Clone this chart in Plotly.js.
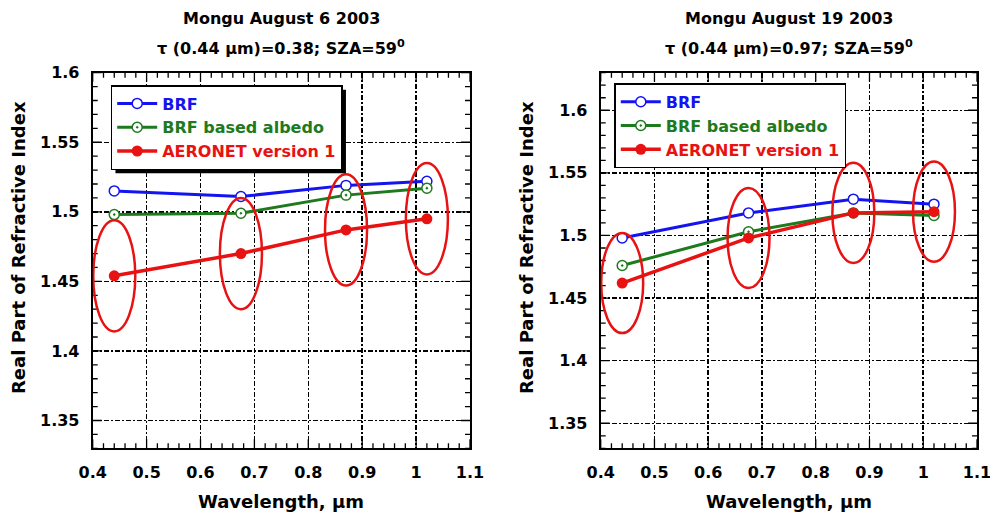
<!DOCTYPE html>
<html>
<head>
<meta charset="utf-8">
<script src="https://cdn.plot.ly/plotly-3.0.1.min.js"></script>
<style>html,body{margin:0;padding:0;background:#fff}#chart{width:990px;height:515px}</style>
</head>
<body>
<div id="chart"></div>
<script>
// ---- data ----
const wavelength = [0.44, 0.675, 0.87, 1.02];

const aug6Brf     = [1.515, 1.511, 1.519, 1.522];
const aug6Albedo  = [1.498, 1.499, 1.512, 1.517];
const aug6Aeronet = [1.454, 1.470, 1.487, 1.495];

const aug19Brf     = [1.498, 1.518, 1.529, 1.525];
const aug19Albedo  = [1.476, 1.503, 1.518, 1.516];
const aug19Aeronet = [1.462, 1.498, 1.518, 1.519];

const seriesNames = ['BRF', 'BRF based albedo', 'AERONET version 1'];
const panelTitles = ['Mongu August 6 2003', 'Mongu August 19 2003'];
const panelSubtitles = ['τ (0.44 µm)=0.38; SZA=59<sup>0</sup>', 'τ (0.44 µm)=0.97; SZA=59<sup>0</sup>'];
const xTitle = 'Wavelength, µm';
const yTitle = 'Real Part of Refractive Index';

// ---- styles ----
const BLUE = '#1414f0', GREEN = '#1d7a1d', RED = '#e81212';
const FONT = 'DejaVu Sans, sans-serif';
const GRIDDASH = '5px,2px,2px,2px';

const X_RANGE = [0.4, 1.1];
const Y_RANGE_L = [1.33, 1.6];
const Y_RANGE_R = [1.33, 1.63];

const W = 990, H = 515;
const px = v => v / W, py = v => 1 - v / H;
const PLOT_L = [92.7, 470], PLOT_R = [600.7, 977], PLOT_TB = [72.7, 448.3];
const XD1 = [px(PLOT_L[0]), px(PLOT_L[1])], XD2 = [px(PLOT_R[0]), px(PLOT_R[1])];
const YD = [1 - PLOT_TB[1] / H, 1 - PLOT_TB[0] / H];

function traces(brf, alb, aer, xa, ya, leg) {
  return [
    {x: wavelength, y: brf, xaxis: xa, yaxis: ya, legend: leg, mode: 'lines+markers',
     name: '<span style="color:' + BLUE + '">' + seriesNames[0] + '</span>',
     line: {color: BLUE, width: 3},
     marker: {symbol: 'circle', size: 10, color: 'white', line: {color: BLUE, width: 1.5}}},
    {x: wavelength, y: alb, xaxis: xa, yaxis: ya, legend: leg, mode: 'lines+markers',
     name: '<span style="color:' + GREEN + '">' + seriesNames[1] + '</span>',
     line: {color: GREEN, width: 3},
     marker: {symbol: 'circle-dot', size: 10, color: 'white', line: {color: GREEN, width: 1.5}}},
    {x: wavelength, y: aer, xaxis: xa, yaxis: ya, legend: leg, mode: 'lines+markers',
     name: '<span style="color:' + RED + '">' + seriesNames[2] + '</span>',
     line: {color: RED, width: 3.5},
     marker: {symbol: 'circle', size: 11, color: RED}}
  ];
}

// inside tick marks on all four sides (minor every 0.02 in x, 0.01 in y), as one line trace
function tickTrace(xa, ya, yRange, plotX) {
  const TL = 5, TM = 9;
  const xPerPx = (X_RANGE[1] - X_RANGE[0]) / (plotX[1] - plotX[0]);
  const yPerPx = (yRange[1] - yRange[0]) / (PLOT_TB[1] - PLOT_TB[0]);
  const xs = [], ys = [];
  for (let k = 0; k <= 35; k++) {
    const v = +(X_RANGE[0] + k * 0.02).toFixed(4);
    const d = ((k % 5 === 0) ? TM : TL) * yPerPx;
    xs.push(v, v, null, v, v, null);
    ys.push(yRange[0], yRange[0] + d, null, yRange[1], yRange[1] - d, null);
  }
  const k0 = Math.ceil(yRange[0] * 100 - 1e-6), k1 = Math.floor(yRange[1] * 100 + 1e-6);
  for (let k = k0; k <= k1; k++) {
    const v = k / 100;
    const d = ((k % 5 === 0) ? TM : TL) * xPerPx;
    xs.push(X_RANGE[0], X_RANGE[0] + d, null, X_RANGE[1], X_RANGE[1] - d, null);
    ys.push(v, v, null, v, v, null);
  }
  return {x: xs, y: ys, xaxis: xa, yaxis: ya, mode: 'lines', showlegend: false,
    hoverinfo: 'skip', line: {color: 'black', width: 1.3}, connectgaps: false};
}

const data = [].concat(
  [tickTrace('x', 'y', Y_RANGE_L, PLOT_L), tickTrace('x2', 'y2', Y_RANGE_R, PLOT_R)],
  traces(aug6Brf, aug6Albedo, aug6Aeronet, 'x', 'y', 'legend'),
  traces(aug19Brf, aug19Albedo, aug19Aeronet, 'x2', 'y2', 'legend2')
);

// ellipses around the AERONET points
const ellHalfX = 0.039, ellHalfY = 0.04;
function ellipses(ys, xr, yr) {
  return wavelength.map((w, i) => ({
    type: 'circle', xref: xr, yref: yr, layer: 'above',
    x0: w - ellHalfX, x1: w + ellHalfX, y0: ys[i] - ellHalfY, y1: ys[i] + ellHalfY,
    line: {color: RED, width: 2.5}
  }));
}

function xaxis(domain, anchor) {
  return {
    domain: domain, anchor: anchor, range: X_RANGE, dtick: 0.1, tick0: 0.4,
    showline: true, linecolor: 'black', linewidth: 2, mirror: true,
    ticks: '', showgrid: true, gridcolor: 'black', gridwidth: 1.5, griddash: GRIDDASH,
    zeroline: false, ticklabeloverflow: 'allow',
    tickfont: {family: FONT, size: 16, color: 'black', weight: 700},
    ticklabelstandoff: 8
  };
}
function yaxis(domain, anchor, range) {
  return {
    domain: domain, anchor: anchor, range: range, dtick: 0.05, tick0: 1.35,
    showline: true, linecolor: 'black', linewidth: 2, mirror: true,
    ticks: '', showgrid: true, gridcolor: 'black', gridwidth: 1.5, griddash: GRIDDASH,
    zeroline: false,
    tickfont: {family: FONT, size: 16, color: 'black', weight: 700},
    ticklabelstandoff: 8
  };
}

function legend(x, y) {
  return {x: x, y: y, xanchor: 'left', yanchor: 'top', xref: 'paper', yref: 'paper',
    bgcolor: 'white', bordercolor: 'black', borderwidth: 1.5,
    font: {family: FONT, size: 16, weight: 700}, itemwidth: 40, tracegroupgap: 0};
}

function ann(text, x, y, size, angle) {
  return {text: text, x: px(x), y: py(y), xref: 'paper', yref: 'paper', showarrow: false,
    xanchor: 'center', yanchor: 'middle', textangle: angle || 0,
    font: {family: FONT, size: size, color: 'black', weight: 700}};
}

const baseShapes = [].concat(
  ellipses(aug6Aeronet, 'x', 'y'),
  ellipses(aug19Aeronet, 'x2', 'y2')
);

const layout = {
  width: W, height: H, margin: {l: 0, r: 0, t: 0, b: 0},
  paper_bgcolor: 'white', plot_bgcolor: 'white', showlegend: true,
  xaxis: xaxis(XD1, 'y'),
  yaxis: yaxis(YD, 'x', Y_RANGE_L),
  xaxis2: xaxis(XD2, 'y2'),
  yaxis2: yaxis(YD, 'x2', Y_RANGE_R),
  legend: legend(px(110.7), py(85)),
  legend2: legend(px(614.3), py(83.3)),
  shapes: baseShapes,
  annotations: [
    ann(panelTitles[0], 281, 18, 16),
    ann(panelSubtitles[0], 281, 47, 16),
    ann(panelTitles[1], 789, 18, 16),
    ann(panelSubtitles[1], 789, 47, 16),
    ann(xTitle, 281, 501, 18),
    ann(xTitle, 789, 501, 18),
    ann(yTitle, 18, 248, 18, -90),
    ann(yTitle, 526, 248, 18, -90)
  ]
};

const gd = document.getElementById('chart');
Plotly.newPlot(gd, data, layout, {displayModeBar: false, staticPlot: true}).then(() => {
  // drop shadow behind each legend box, sized from the rendered legend
  const root = gd.getBoundingClientRect();
  const shadows = [];
  gd.querySelectorAll('g.legend rect.bg').forEach(r => {
    const b = r.getBoundingClientRect();
    const x0 = b.left - root.left + 4, y0 = b.top - root.top + 4;
    const x1 = b.right - root.left + 4, y1 = b.bottom - root.top + 4;
    shadows.push({type: 'rect', xref: 'paper', yref: 'paper', layer: 'above',
      x0: px(x0), x1: px(x1), y0: py(y1), y1: py(y0),
      fillcolor: 'black', line: {width: 0}});
  });
  return Plotly.relayout(gd, {shapes: baseShapes.concat(shadows)});
});
</script>
</body>
</html>
